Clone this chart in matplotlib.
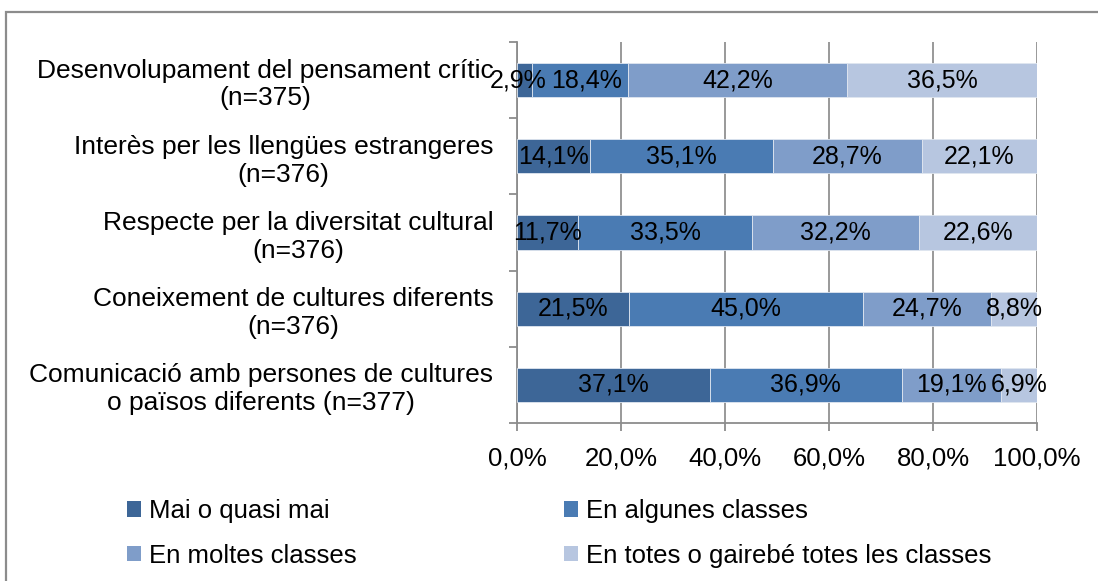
import matplotlib
matplotlib.use("Agg")
import matplotlib.pyplot as plt
from matplotlib.patches import Rectangle, Patch
import numpy as np

plt.rcParams['font.family'] = ['Liberation Sans', 'DejaVu Sans']

categories = [
    "Desenvolupament del pensament crític\n(n=375)",
    "Interès per les llengües estrangeres\n(n=376)",
    "Respecte per la diversitat cultural\n(n=376)",
    "Coneixement de cultures diferents\n(n=376)",
    "Comunicació amb persones de cultures\no països diferents (n=377)",
]
series_names = [
    "Mai o quasi mai",
    "En algunes classes",
    "En moltes classes",
    "En totes o gairebé totes les classes",
]
mai = [2.9, 14.1, 11.7, 21.5, 37.1]
algunes = [18.4, 35.1, 33.5, 45.0, 36.9]
moltes = [42.2, 28.7, 32.2, 24.7, 19.1]
totes = [36.5, 22.1, 22.6, 8.8, 6.9]
xticks = [0, 20, 40, 60, 80, 100]
xtick_labels = ["0,0%", "20,0%", "40,0%", "60,0%", "80,0%", "100,0%"]

colors = ["#3d6697", "#4a7bb3", "#7f9dc9", "#b7c6e0"]
FS = 18.5
FS_BAR = 18
FS_CAT = 19

fig = plt.figure(figsize=(10.98, 5.81), dpi=100)
ax = fig.add_axes([0.4709, 0.2719, 0.9444 - 0.4709, 0.9277 - 0.2719])

# outer chart frame
fig.patches.append(Rectangle((6 / 1098, -0.05), 1.2, 1 - 12 / 581 + 0.05,
                             transform=fig.transFigure, fill=False,
                             edgecolor="#8c8c8c", linewidth=1.6))

y = np.arange(len(categories))
left = np.zeros(len(categories))
row_labels = [[] for _ in categories]
for vals, col in zip([mai, algunes, moltes, totes], colors):
    vals = np.array(vals)
    ax.barh(y, vals, left=left, height=0.45, color=col,
            edgecolor="#dfe6f0", linewidth=0.6, zorder=3)
    for yi, l, v in zip(y, left, vals):
        t = ax.text(l + v / 2, yi, f"{v:.1f}%".replace(".", ","),
                    ha="center", va="center", fontsize=FS_BAR, color="black", zorder=4)
        row_labels[yi].append(t)
    left += vals

ax.set_xlim(0, 100)
ax.set_ylim(len(categories) - 0.5, -0.5)
ax.set_xticks(xticks)
ax.set_xticklabels(xtick_labels, fontsize=FS)
ax.set_yticks(y)
ax.set_yticklabels(categories, fontsize=FS_CAT, multialignment="center")
ax.tick_params(axis="y", length=0, pad=17)
ax.set_yticks(np.arange(-0.5, len(categories)), minor=True)
ax.tick_params(axis="y", which="minor", length=6, width=1.3, color="#8c8c8c")
ax.tick_params(axis="x", length=6, width=1.3, color="#8c8c8c", pad=11)

ax.grid(axis="x", color="#999999", linewidth=1.4, zorder=0)
ax.set_axisbelow(True)
for s in ["top", "right"]:
    ax.spines[s].set_visible(False)
for s in ["left", "bottom"]:
    ax.spines[s].set_color("#8c8c8c")
    ax.spines[s].set_linewidth(1.3)

# legend filled row by row: two entries per row
handles = [Patch(facecolor=c, edgecolor="none") for c in colors]
order = [0, 2, 1, 3]
fig.legend([handles[i] for i in order], [series_names[i] for i in order],
           loc="upper left", bbox_to_anchor=(127 / 1098, 1 - 499 / 581),
           ncol=2, frameon=False, fontsize=FS, handlelength=0.55, handleheight=0.55,
           handletextpad=0.3, columnspacing=8.07, labelspacing=0.8,
           borderpad=0, borderaxespad=0)

# push apart neighbouring value labels that would collide in narrow segments
fig.canvas.draw()
renderer = fig.canvas.get_renderer()
px_per_unit = ax.transData.transform((1, 0))[0] - ax.transData.transform((0, 0))[0]
gap = 4
for labels in row_labels:
    for a, b in zip(labels[:-1], labels[1:]):
        ba = a.get_window_extent(renderer)
        bb = b.get_window_extent(renderer)
        overlap = ba.x1 - bb.x0 + gap
        if overlap > 0:
            shift = overlap / 2 / px_per_unit
            xa, ya = a.get_position()
            xb, yb = b.get_position()
            a.set_position((xa - shift, ya))
            b.set_position((xb + shift, yb))

fig.savefig("out.png", dpi=100)
